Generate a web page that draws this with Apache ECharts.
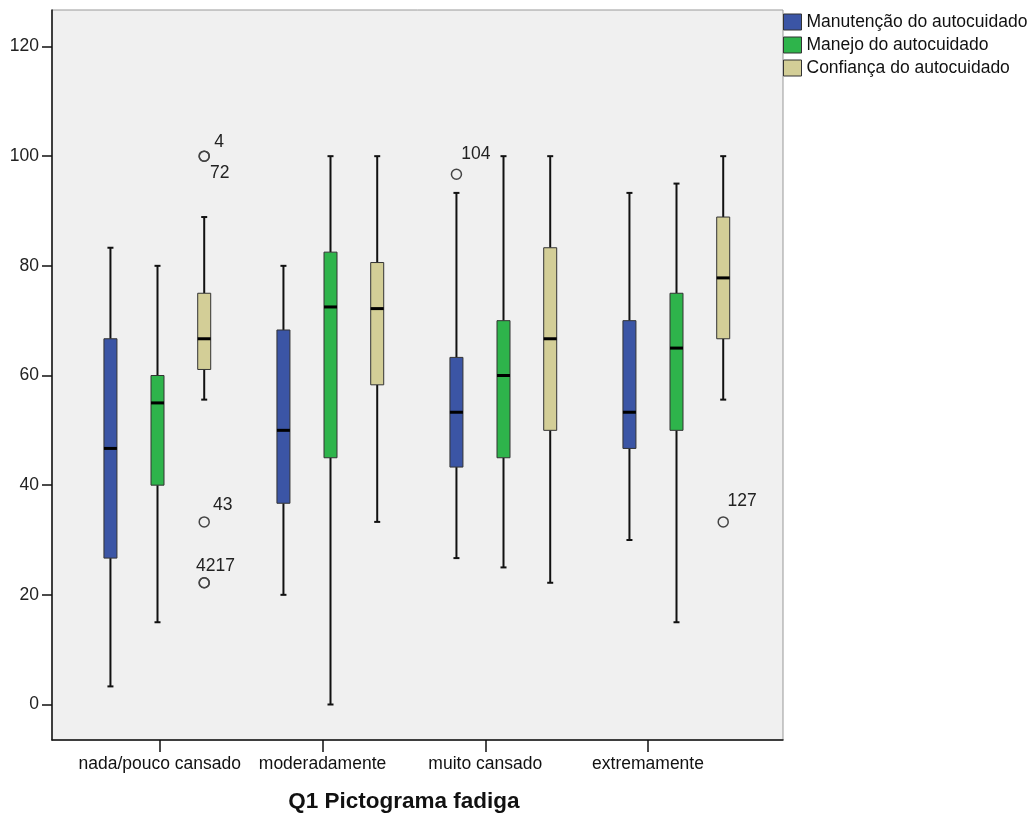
<!DOCTYPE html>
<html>
<head>
<meta charset="utf-8">
<script src="https://cdn.jsdelivr.net/npm/echarts@6/dist/echarts.min.js"></script>
<style>
  html, body { margin: 0; padding: 0; background: #fff; }
  #chart { width: 1033px; height: 816px; }
</style>
</head>
<body>
<div id="chart"></div>
<script>
const categories = ['nada/pouco cansado', 'moderadamente', 'muito cansado', 'extremamente'];
const seriesNames = ['Manutenção do autocuidado', 'Manejo do autocuidado', 'Confiança do autocuidado'];
const yTicks = [0, 20, 40, 60, 80, 100, 120];

// [min, Q1, median, Q3, max] per category
const manutencao = [
  [3.3, 26.7, 46.7, 66.7, 83.3],
  [20, 36.7, 50, 68.3, 80],
  [26.7, 43.3, 53.3, 63.3, 93.3],
  [30, 46.7, 53.3, 70, 93.3]
];
const manejo = [
  [15, 40, 55, 60, 80],
  [0, 45, 72.5, 82.5, 100],
  [25, 45, 60, 70, 100],
  [15, 50, 65, 75, 95]
];
const confianca = [
  [55.6, 61.1, 66.7, 75, 88.9],
  [33.3, 58.3, 72.2, 80.6, 100],
  [22.2, 50, 66.7, 83.3, 100],
  [55.6, 66.7, 77.8, 88.9, 100]
];

// outliers: [category index, series index, value, case id]
const outliers = [
  [0, 2, 100, '4'],
  [0, 2, 100, '72'],
  [0, 2, 33.3, '43'],
  [0, 2, 22.2, '42'],
  [0, 2, 22.2, '17'],
  [2, 0, 96.7, '104'],
  [3, 2, 33.3, '127']
];

const colors = ['#3b55a5', '#2eb44b', '#d3ce97'];
const groupOffset = [-0.272, 0, 0.27]; // fraction of band width
const font = "'Liberation Sans', Arial, sans-serif";
// where each case label sits relative to its circle
const labelShift = {
  '4': [15, -14], '72': [15.5, 17], '43': [18.5, -17],
  '42': [1.5, -17], '17': [21, -17], '104': [19.5, -20.5], '127': [19, -21]
};

const chart = echarts.init(document.getElementById('chart'));

function boxSeries(name, data, idx) {
  return {
    name: name,
    type: 'custom',
    xAxisIndex: 1,
    yAxisIndex: 1,
    itemStyle: { color: colors[idx] },
    encode: { x: 0, y: [1, 2, 3, 4, 5] },
    data: data.map((d, i) => [i].concat(d)),
    renderItem: (params, api) => {
      const cat = api.value(0);
      const band = api.size([1, 0])[0];
      const cx = api.coord([cat, 0])[0] + groupOffset[idx] * band;
      const y = (k) => api.coord([cat, api.value(k)])[1];
      const yMin = y(1), yQ1 = y(2), yMed = y(3), yQ3 = y(4), yMax = y(5);
      const w = 13, cap = 3;
      const lineStyle = { stroke: '#111', lineWidth: 2 };
      return {
        type: 'group',
        children: [
          { type: 'line', shape: { x1: cx, y1: yMax, x2: cx, y2: yQ3 }, style: lineStyle },
          { type: 'line', shape: { x1: cx, y1: yQ1, x2: cx, y2: yMin }, style: lineStyle },
          { type: 'line', shape: { x1: cx - cap, y1: yMax, x2: cx + cap, y2: yMax }, style: lineStyle },
          { type: 'line', shape: { x1: cx - cap, y1: yMin, x2: cx + cap, y2: yMin }, style: lineStyle },
          {
            type: 'rect',
            shape: { x: cx - w / 2, y: yQ3, width: w, height: yQ1 - yQ3 },
            style: { fill: colors[idx], stroke: '#333', lineWidth: 1 }
          },
          { type: 'line', shape: { x1: cx - w / 2, y1: yMed, x2: cx + w / 2, y2: yMed }, style: { stroke: '#000', lineWidth: 3 } }
        ]
      };
    }
  };
}

const outlierSeries = {
  type: 'custom',
  xAxisIndex: 1,
  yAxisIndex: 1,
  encode: { x: 0, y: 2 },
  data: outliers,
  renderItem: (params, api) => {
    const o = outliers[params.dataIndex];
    const band = api.size([1, 0])[0];
    const pt = api.coord([o[0], o[2]]);
    const cx = pt[0] + groupOffset[o[1]] * band;
    const s = labelShift[o[3]];
    return {
      type: 'group',
      children: [
        { type: 'circle', shape: { cx: cx, cy: pt[1], r: 5 }, style: { fill: 'none', stroke: '#444', lineWidth: 1.5 } },
        {
          type: 'text',
          x: cx + s[0],
          y: pt[1] + s[1],
          style: { text: o[3], fill: '#222', font: '17.5px ' + font, align: 'center', verticalAlign: 'middle' }
        }
      ]
    };
  }
};

const option = {
  animation: false,
  textStyle: { fontFamily: font },
  legend: {
    data: seriesNames,
    orient: 'vertical',
    left: 783,
    top: 13,
    padding: 0,
    itemGap: 5,
    icon: 'rect',
    itemWidth: 18,
    itemHeight: 16,
    itemStyle: { borderColor: '#333', borderWidth: 1 },
    textStyle: { fontSize: 17.5, color: '#111', fontFamily: font }
  },
  grid: [
    // frame
    { left: 52, top: 10, width: 731, height: 730, show: true, backgroundColor: '#f0f0f0', borderColor: '#999', borderWidth: 1, outerBoundsMode: 'none' },
    // boxes
    { left: 71, top: 46.5, width: 692, height: 658, outerBoundsMode: 'none' },
    // category labels
    { left: 78.4, top: 10, width: 651, height: 730, outerBoundsMode: 'none' }
  ],
  xAxis: [
    {
      gridIndex: 0, type: 'value', min: 0, max: 1,
      axisLine: { show: true, lineStyle: { color: '#111', width: 1.5 } },
      axisTick: { show: false }, axisLabel: { show: false }, splitLine: { show: false }
    },
    { gridIndex: 1, type: 'category', data: categories, show: false },
    {
      gridIndex: 2, type: 'category', data: categories,
      axisLine: { show: false },
      axisTick: { show: true, alignWithLabel: true, length: 12, lineStyle: { color: '#111', width: 1.5 } },
      axisLabel: { interval: 0, fontSize: 17.5, color: '#111', margin: 15, fontFamily: font },
      name: 'Q1 Pictograma fadiga',
      nameLocation: 'middle',
      nameGap: 50,
      nameTextStyle: { fontSize: 22.5, fontWeight: 'bold', color: '#111', fontFamily: font }
    }
  ],
  yAxis: [
    {
      gridIndex: 0, type: 'value', min: 0, max: 1,
      axisLine: { show: true, lineStyle: { color: '#111', width: 1.5 } },
      axisTick: { show: false }, axisLabel: { show: false }, splitLine: { show: false }
    },
    {
      gridIndex: 1, type: 'value', min: yTicks[0], max: yTicks[yTicks.length - 1], interval: 20,
      offset: 19,
      axisLine: { show: false },
      axisTick: { show: true, length: 10, lineStyle: { color: '#111', width: 1.5 } },
      axisLabel: { fontSize: 17.5, color: '#222', margin: 13, fontFamily: font },
      splitLine: { show: false }
    },
    { gridIndex: 2, type: 'value', show: false }
  ],
  series: [
    boxSeries(seriesNames[0], manutencao, 0),
    boxSeries(seriesNames[1], manejo, 1),
    boxSeries(seriesNames[2], confianca, 2),
    outlierSeries
  ]
};

chart.setOption(option);
</script>
</body>
</html>
